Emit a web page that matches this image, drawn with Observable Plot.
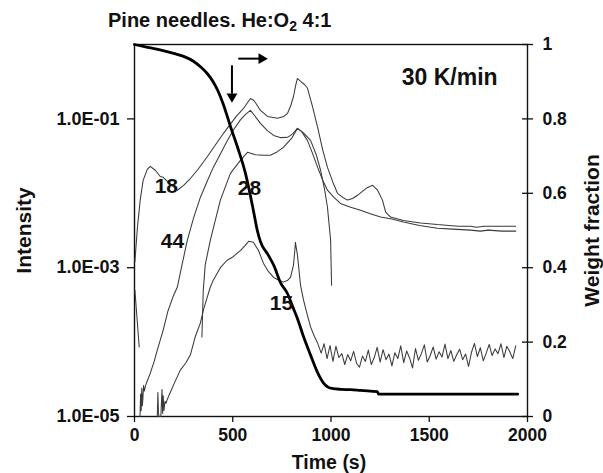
<!DOCTYPE html>
<html><head><meta charset="utf-8">
<script src="https://cdn.jsdelivr.net/npm/d3@7"></script>
<script src="https://cdn.jsdelivr.net/npm/@observablehq/plot@0.6"></script>
<style>
body{margin:0;background:#fff;}
#wrap{position:relative;width:603px;height:473px;font-family:"Liberation Sans",Arial,sans-serif;font-weight:bold;color:#111;}
#title{position:absolute;left:108px;top:8px;font-size:20px;line-height:24px;white-space:nowrap;}
#title sub{font-size:14px;vertical-align:-4px;line-height:0;}
#chart{position:absolute;left:0;top:0;}
</style></head><body>
<div id="wrap"><div id="chart"></div><div id="title">Pine needles. He:O<sub>2</sub> 4:1</div></div>
<script>
// ---- data ----
const xTicks = [0, 500, 1000, 1500, 2000];
const intensityTicks = [1e-5, 1e-3, 1e-1];
const weightTicks = [0, 0.2, 0.4, 0.6, 0.8, 1];

// m/z 18
const h2oTime = [2,15,29,44,65,80,106,131,146,167,190,218,250,284,320,370,422,455,488,520,554,575,590,604,616,641,677,728,760,779,795,809,820,829,845,865,880,905,932,958,982,1010,1033,1060,1084,1110,1135,1160,1186,1212,1237,1262,1278,1303,1369,1456,1542,1600,1650,1710,1740,1780,1850,1940];
const h2oIntensity = [1.2e-3,3.5e-3,8.1e-3,1.49e-2,0.021,0.023,0.0204,0.0168,0.0164,0.0145,0.0128,0.011,0.0128,0.0158,0.0204,0.031,0.049,0.065,0.085,0.11,0.137,0.165,0.188,0.18,0.165,0.13,0.108,0.102,0.108,0.119,0.15,0.2,0.28,0.35,0.32,0.29,0.26,0.15,0.077,0.038,0.0223,0.014,0.0100,0.0088,0.0081,0.0085,0.0094,0.0106,0.012,0.0128,0.011,0.0081,0.0056,0.0048,0.0043,0.0040,0.0038,0.0037,0.0036,0.0036,0.0035,0.0036,0.0036,0.0036];

// m/z 44
const co2Time = [28,31,34,37,40,43,46,50,56,65,80,100,120,146,170,195,218,245,269,300,335,370,401,435,472,505,539,565,590,610,641,675,708,745,779,805,829,850,880,905,932,958,982,1015,1048,1100,1150,1200,1252,1310,1369,1450,1542,1620,1710,1760,1800,1870,1940];
const co2Intensity = [1.0e-5,2.0e-5,1.2e-5,2.4e-5,1.4e-5,1.8e-5,2.6e-5,2.2e-5,2.6e-5,3.0e-5,3.8e-5,5.5e-5,8.5e-5,1.45e-4,2.6e-4,4.0e-4,5.5e-4,1.2e-3,2.34e-3,4.6e-3,8.8e-3,0.0145,0.0223,0.033,0.051,0.072,0.097,0.115,0.13,0.112,0.087,0.07,0.06,0.056,0.0565,0.063,0.0745,0.068,0.0514,0.035,0.0223,0.015,0.011,0.0088,0.0073,0.0065,0.0059,0.0053,0.0048,0.0045,0.0041,0.0037,0.0034,0.0033,0.0032,0.0031,0.0032,0.0031,0.0031];

// m/z 28 (gap while below range)
const coTime = [2,24,100,343,350,360,386,437,488,539,575,616,656,692,725,758,800,829,860,896,925,947,968,982,998,1003];
const coIntensity = [5e-4,8.6e-5,null,1.17e-4,5e-4,1.1e-3,2.34e-3,8.1e-3,0.0185,0.0277,0.0355,0.033,0.0324,0.0324,0.036,0.0414,0.055,0.0745,0.065,0.0514,0.033,0.0204,0.011,0.0065,0.00234,5.8e-4];

// m/z 15
const ch4Time = [116,119,122,125,128,134,140,143,146,150,155,160,167,182,205,233,260,284,310,335,352,370,386,401,437,470,498,520,539,560,582,605,631,656,680,708,735,758,780,794,809,815,819,824,829,845,860,878,896,915,932,
950,965,980,995,1010,1025,1040,1055,1070,1085,1100,1115,1130,1145,1160,1175,1190,1205,1220,1235,1250,1265,1280,1295,1310,1325,1340,1355,1370,1385,1400,1415,1430,1445,1460,1475,1490,1505,1520,1535,1550,1565,1580,1595,1610,1625,1640,1655,1670,1685,1700,1715,1730,1745,1760,1775,1790,1805,1820,1835,1850,1865,1880,1895,1910,1925,1940];
const ch4Intensity = [1.0e-5,2.1e-5,1.1e-5,1.0e-5,1.0e-5,1.0e-5,2.3e-5,1.1e-5,1.9e-5,1.2e-5,1.6e-5,1.5e-5,1.7e-5,2.1e-5,2.9e-5,4.2e-5,5.2e-5,6.7e-5,1.2e-4,1.8e-4,2.8e-4,4.0e-4,5.5e-4,6.8e-4,1.0e-3,1.25e-3,1.38e-3,1.55e-3,1.7e-3,1.95e-3,2.27e-3,2.2e-3,1.7e-3,1.15e-3,9.0e-4,7.4e-4,6.8e-4,6.4e-4,6.8e-4,7.4e-4,1.08e-3,1.6e-3,2.2e-3,1.8e-3,1.5e-3,5.8e-4,3.7e-4,2.4e-4,1.6e-4,1.2e-4,9.7e-5,
7.1e-5,9.5e-5,6.0e-5,9.0e-5,5.5e-5,8.8e-5,6.2e-5,7.0e-5,5.0e-5,6.8e-5,5.6e-5,7.5e-5,5.2e-5,4.6e-5,6.5e-5,5.5e-5,7.8e-5,5.0e-5,6.2e-5,8.5e-5,5.4e-5,7.9e-5,5.8e-5,6.9e-5,4.8e-5,7.2e-5,6.0e-5,8.9e-5,5.3e-5,7.6e-5,6.1e-5,4.5e-5,8.2e-5,5.7e-5,7.0e-5,9.2e-5,5.4e-5,6.6e-5,8.6e-5,5.9e-5,7.4e-5,6.3e-5,9.4e-5,6.0e-5,7.7e-5,5.5e-5,6.8e-5,8.0e-5,5.8e-5,6.9e-5,4.7e-5,7.3e-5,9.6e-5,6.4e-5,8.4e-5,5.6e-5,7.1e-5,9.3e-5,6.6e-5,8.1e-5,7.0e-5,9.5e-5,6.2e-5,8.8e-5,7.4e-5,6.0e-5,8.9e-5];

// weight fraction (TG)
const weightTime = [0,50,100,150,200,250,300,340,370,400,425,450,490,525,565,605,625,641,677,710,743,779,809,830,860,896,930,962,985,1010,1050,1100,1150,1200,1236,1242,1950];
const weightFraction = [1.0,0.994,0.989,0.983,0.976,0.968,0.955,0.938,0.922,0.900,0.875,0.842,0.777,0.723,0.653,0.554,0.50,0.47,0.437,0.405,0.36,0.33,0.29,0.262,0.215,0.165,0.12,0.09,0.079,0.075,0.073,0.072,0.070,0.068,0.067,0.060,0.060];

// annotations
const curveLabels = ["18", "28", "44", "15"];
const curveLabelTime = [162, 585, 193, 748];
const curveLabelIntensity = [0.0124, 0.0117, 0.00227, 3.33e-4];
const rateLabel = ["30 K/min"], rateTime = [1604], rateWeight = [0.912];
const arrowTime1 = [496, 528], arrowWeight1 = [0.944, 0.962];
const arrowTime2 = [496, 636], arrowWeight2 = [0.868, 0.962];
const headTime = [496, 647], headWeight = [0.86, 0.962], headRotate = [180, 90];

// ---- chart ----
const yOf = w => Math.pow(10, -5 + 5 * w);
const rows = (t, v) => t.map((d, i) => ({t: d, v: v[i]}));
const fmtE = d => { const e = Math.round(Math.log10(d)); return "1.0E" + (e < 0 ? "-" : "+") + String(Math.abs(e)).padStart(2, "0"); };
const fmtW = d => String(Math.round((Math.log10(d) + 5) / 5 * 10) / 10);
const thin = {x: "t", y: "v", stroke: "#3a3a3a", strokeWidth: 1.05};
const bold = {fontWeight: "bold", fill: "#111"};

const chart = Plot.plot({
  width: 603, height: 473,
  marginLeft: 134, marginRight: 76, marginTop: 44, marginBottom: 57,
  style: {fontFamily: "'Liberation Sans', Arial, sans-serif", fontWeight: "bold", fontSize: "17.5px", color: "#111", background: "white", overflow: "visible"},
  x: {domain: [0, 2000]},
  y: {type: "log", domain: [1e-5, 1]},
  marks: [
    Plot.frame({stroke: "#111", strokeWidth: 1.4}),
    Plot.axisX({ticks: xTicks, tickSize: 6, tickPadding: 6, fontSize: 17.5, label: null, tickFormat: d => String(d), strokeWidth: 1.3, ...bold}),
    Plot.axisY({anchor: "left", ticks: intensityTicks, tickSize: 7, tickPadding: 8, fontSize: 18, label: null, tickFormat: fmtE, strokeWidth: 1.3, ...bold}),
    Plot.axisY({anchor: "right", ticks: weightTicks.map(yOf), tickSize: 5, tickPadding: 10, fontSize: 17.5, label: null, tickFormat: fmtW, strokeWidth: 1.3, ...bold}),
    Plot.axisY({anchor: "right", ticks: weightTicks.map(yOf), tickSize: -6, tickFormat: () => "", label: null, strokeWidth: 1.3}),
    Plot.line(rows(h2oTime, h2oIntensity), thin),
    Plot.line(rows(co2Time, co2Intensity), thin),
    Plot.line(rows(coTime, coIntensity), thin),
    Plot.line(rows(ch4Time, ch4Intensity), thin),
    Plot.line(rows(weightTime, weightFraction), {x: "t", y: d => yOf(d.v), stroke: "#000", strokeWidth: 2.8, curve: "monotone-x"}),
    Plot.text(curveLabels, {x: (d, i) => curveLabelTime[i], y: (d, i) => curveLabelIntensity[i], text: d => d, fontSize: 21, ...bold}),
    Plot.text(rateLabel, {x: (d, i) => rateTime[i], y: (d, i) => yOf(rateWeight[i]), text: d => d, fontSize: 23, ...bold}),
    Plot.link(arrowTime1, {x1: d => d, y1: (d, i) => yOf(arrowWeight1[i]), x2: (d, i) => arrowTime2[i], y2: (d, i) => yOf(arrowWeight2[i]), stroke: "#000", strokeWidth: 2}),
    Plot.dot(headTime, {x: d => d, y: (d, i) => yOf(headWeight[i]), rotate: (d, i) => headRotate[i], symbol: "triangle", r: 4, fill: "#000", stroke: "none"}),
    Plot.text(["Time (s)"], {frameAnchor: "bottom", lineAnchor: "bottom", dy: 52, dx: -2, fontSize: 19.5, ...bold}),
    Plot.text(["Intensity"], {frameAnchor: "left", textAnchor: "middle", dx: -110, rotate: -90, fontSize: 21, ...bold}),
    Plot.text(["Weight fraction"], {frameAnchor: "right", textAnchor: "middle", dx: 65, rotate: -90, fontSize: 21, ...bold})
  ]
});
document.getElementById("chart").appendChild(chart);
</script>
</body></html>
